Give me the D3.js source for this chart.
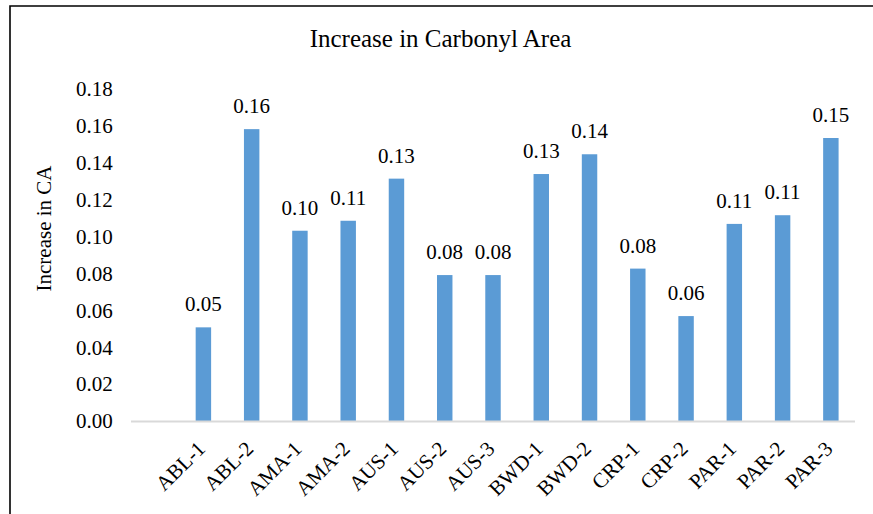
<!DOCTYPE html>
<html>
<head>
<meta charset="utf-8">
<script src="https://cdn.jsdelivr.net/npm/d3@7"></script>
<style>
  html, body { margin: 0; padding: 0; background: #fff; }
  svg { display: block; }
</style>
</head>
<body>
<svg id="chart" width="873" height="514"></svg>
<script>
// Sample categories and measured increase in carbonyl area
const categories = ["ABL-1", "ABL-2", "AMA-1", "AMA-2", "AUS-1", "AUS-2", "AUS-3",
                    "BWD-1", "BWD-2", "CRP-1", "CRP-2", "PAR-1", "PAR-2", "PAR-3"];
const values = [0.0507, 0.158, 0.103, 0.1084, 0.1312, 0.079, 0.079,
                0.1337, 0.1444, 0.0825, 0.0568, 0.1067, 0.1114, 0.1532];
const yTicks = [0, 0.02, 0.04, 0.06, 0.08, 0.10, 0.12, 0.14, 0.16, 0.18];

const titleText = "Increase in Carbonyl Area";
const yTitleText = "Increase in CA";

const serif = "'Liberation Serif', 'Times New Roman', serif";

const svg = d3.select("#chart");

// Outer frame (top and left edges)
svg.append("path")
  .attr("d", "M10,514 L10,6 L873,6")
  .attr("fill", "none")
  .attr("stroke", "#000")
  .attr("stroke-width", 1.6);

const plot = { left: 131, right: 855, top: 88.5, bottom: 421 };

// The category axis keeps an empty leading slot before the first sample
const spacer = "";
const x = d3.scaleBand()
  .domain([spacer, ...categories])
  .range([plot.left, plot.right])
  .paddingInner(0.68)
  .paddingOuter(0.34);

const y = d3.scaleLinear()
  .domain([0, 0.18])
  .range([plot.bottom, plot.top]);

const fmt = d3.format(".2f");

function styleText(sel, size) {
  return sel.style("font-family", serif)
    .style("font-size", size + "px")
    .style("fill", "#000");
}

// Title
svg.append("text")
  .attr("x", 440.5)
  .attr("y", 47.3)
  .attr("text-anchor", "middle")
  .call(styleText, 25)
  .text(titleText);

// Y axis title
svg.append("text")
  .attr("transform", "translate(51,228.5) rotate(-90)")
  .attr("text-anchor", "middle")
  .call(styleText, 21)
  .text(yTitleText);

// Y axis (labels only)
const yAxis = svg.append("g")
  .attr("transform", `translate(${plot.left},0)`)
  .call(d3.axisLeft(y).tickValues(yTicks).tickFormat(fmt).tickSize(0).tickPadding(18));
yAxis.select(".domain").remove();
yAxis.selectAll("text")
  .attr("x", 112.7 - plot.left)
  .attr("dy", "0.33em")
  .call(styleText, 21);

const rows = categories.map((c, i) => ({ c, v: values[i] }));

// Bars
svg.append("g")
  .selectAll("rect")
  .data(rows)
  .join("rect")
  .attr("x", d => x(d.c))
  .attr("width", x.bandwidth())
  .attr("y", d => y(d.v))
  .attr("height", d => y(0) - y(d.v))
  .attr("fill", "#5B9BD5");

// Value labels
svg.append("g")
  .selectAll("text")
  .data(rows)
  .join("text")
  .attr("x", d => x(d.c) + x.bandwidth() / 2)
  .attr("y", d => y(d.v) - 16)
  .attr("text-anchor", "middle")
  .call(styleText, 21)
  .text(d => fmt(d.v));

// Category axis baseline
svg.append("line")
  .attr("x1", plot.left)
  .attr("x2", plot.right)
  .attr("y1", y(0) + 0.5)
  .attr("y2", y(0) + 0.5)
  .attr("stroke", "#d9d9d9")
  .attr("stroke-width", 2);

// Category labels, rotated
svg.append("g")
  .selectAll("text")
  .data(categories)
  .join("text")
  .attr("transform", d => `translate(${x(d) + x.bandwidth() / 2 + 3},450) rotate(-45)`)
  .attr("text-anchor", "end")
  .call(styleText, 21)
  .text(d => d);
</script>
</body>
</html>
